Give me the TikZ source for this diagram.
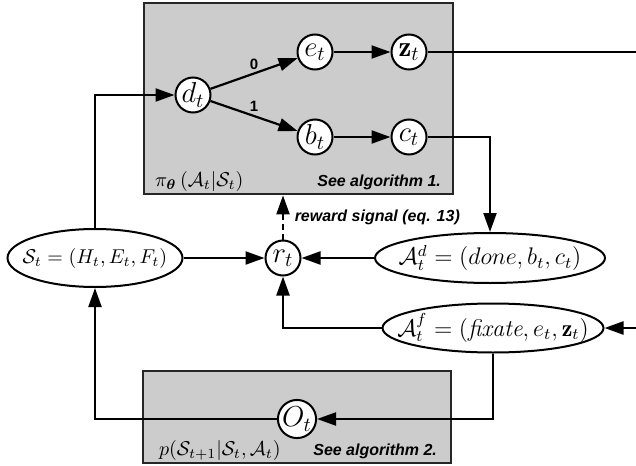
\documentclass[tikz,border=0pt]{standalone}
\usepackage{amsmath}
\usepackage{amssymb}
\usepackage{fontspec}
\setsansfont{Liberation Sans}
\usetikzlibrary{calc,positioning,arrows.meta,shapes.geometric}

\begin{document}
\begin{tikzpicture}[x=0.5pt, y=-0.5pt,
    st/.style={circle, draw=black, fill=white, line width=1pt, minimum size=17.5pt, inner sep=0pt, font=\Large},
    var/.style={ellipse, draw=black, fill=white, line width=1pt, inner sep=0pt},
    panel/.style={rectangle, draw=black!85, fill=black!20, line width=1.2pt, anchor=north west, inner sep=0pt},
    tag/.style={font=\sffamily\bfseries\itshape\fontsize{8}{9}\selectfont},
    lbl/.style={font=\sffamily\bfseries\fontsize{7.5}{8}\selectfont, inner sep=1.5pt},
    arr/.style={-{Triangle[length=9.5pt,width=6.5pt]}, line width=1.1pt},
    ln/.style={line width=1.1pt}]
    \useasboundingbox (0,0) rectangle (636,465);

    \node[panel, minimum width=154.5pt, minimum height=95.5pt] (pol) at (143,2) {};
    \node[panel, minimum width=154pt, minimum height=46pt] (env) at (142,370) {};
    \node[anchor=base west] (poltxt) at (148,186) {$\pi_{\boldsymbol{\theta}}\left(\mathcal{A}_t|\mathcal{S}_t\right)$};
    \node[tag, anchor=base east] (alg1) at (448,186) {See algorithm 1.};
    \node[anchor=base west] (envtxt) at (152,455) {$p(\mathcal{S}_{t+1}|\mathcal{S}_t,\mathcal{A}_t)$};
    \node[tag, anchor=base east] (alg2) at (444,455) {See algorithm 2.};

    \node[st] (d) at (193,95) {$d_t$};
    \node[st] (e) at (315,52) {$e_t$};
    \node[st, right=28.5pt of e] (z) {$\mathbf{z}_t$};
    \node[st] (b) at (315,137) {$b_t$};
    \node[st, right=28.5pt of b] (c) {$c_t$};
    \node[st] (r) at (283,258) {$r_t$};
    \node[st] (o) at (297,419) {$O_t$};

    \node[var, inner xsep=-8pt, minimum width=87.5pt, minimum height=29pt] (s) at (95,258) {$\mathcal{S}_t = (H_t, E_t, F_t)$};
    \node[var, inner xsep=-12pt, minimum width=115pt, minimum height=25pt, font=\large] (ad) at (490,258) {$\mathcal{A}^d_t = (done, b_t, c_t)$};
    \node[var, inner xsep=-12pt, minimum width=110.5pt, minimum height=24.5pt, font=\large] (af) at (493,328) {$\mathcal{A}^f_t = (\textit{fixate}, e_t, \mathbf{z}_t)$};
    \coordinate (rim) at (660,190);

    \draw[arr] (s.north) |- (d.west);
    \draw[arr] (d) -- node[lbl, above, pos=0.5] {0} (e);
    \draw[arr] (d) -- node[lbl, above, pos=0.5] {1} (b);
    \draw[arr] (e) -- (z);
    \draw[arr] (b) -- (c);
    \draw[arr] (z.east) -| (rim) |- (af.east);
    \draw[arr] (c.east) -| (ad.north);
    \draw[arr] (ad.west) -- (r.east);
    \draw[arr] (s.east) -- (r.west);
    \draw[arr] (af.west) -| (r.south);
    \draw[arr, dash pattern=on 3pt off 2pt] (r.north) -- node[tag, right=2pt] {reward signal (eq. 13)} (r |- pol.south);
    \draw[arr] (af.south) |- (o.east);
    \draw[arr] (o.west) -| (s.south);

\end{tikzpicture}
\end{document}
